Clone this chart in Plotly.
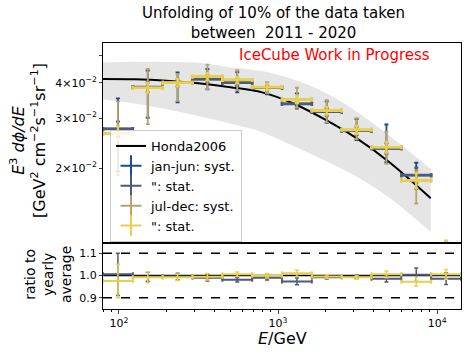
import numpy as np
import plotly.graph_objects as go

# ---------------- data ----------------
# energy bins: log10(E/GeV) edges
bin_edges_log = [1.9, 2.0875, 2.275, 2.4625, 2.65, 2.8375, 3.025, 3.2125, 3.4, 3.5875, 3.775, 3.9625, 4.15]

# E^3 dphi/dE  [GeV^2 cm^-2 s^-1 sr^-1]
jj_flux    = [0.0275, 0.0386, 0.0400, 0.0412, 0.0400, 0.0384, 0.0337, 0.0316, 0.0271, 0.0235, 0.0189, 0.0093]
jj_syst_up = [0.0077, 0.0055, 0.0035, 0.0035, 0.0036, 0.0016, 0.0030, 0.0028, 0.0027, 0.0050, 0.0020, 0.0012]
jj_syst_dn = [0.0080, 0.0085, 0.0059, 0.0033, 0.0030, 0.0020, 0.0013, 0.0027, 0.0020, 0.0025, 0.0020, 0.0020]
jj_stat    = [0.0017, 0.0015, 0.0012, 0.0012, 0.0010, 0.0010, 0.0010, 0.0010, 0.0009, 0.0010, 0.0012, 0.0010]

jd_flux    = [0.0265, 0.0384, 0.0400, 0.0420, 0.0409, 0.0386, 0.0349, 0.0319, 0.0273, 0.0237, 0.0181, 0.0100]
jd_syst_up = [0.0078, 0.0063, 0.0030, 0.0043, 0.0034, 0.0014, 0.0035, 0.0028, 0.0027, 0.0032, 0.0015, 0.0011]
jd_syst_dn = [0.0076, 0.0098, 0.0055, 0.0040, 0.0032, 0.0018, 0.0022, 0.0029, 0.0020, 0.0030, 0.0031, 0.0020]
jd_stat    = [0.0016, 0.0015, 0.0012, 0.0012, 0.0010, 0.0010, 0.0010, 0.0010, 0.0009, 0.0010, 0.0011, 0.0011]

# ratio to yearly average
jj_ratio     = [1.005, 0.994, 0.995, 0.990, 0.981, 0.990, 0.973, 0.992, 0.994, 0.985, 1.003, 0.985]
jj_ratio_err = [0.095, 0.020, 0.015, 0.015, 0.010, 0.010, 0.015, 0.008, 0.008, 0.015, 0.030, 0.026]
jd_ratio     = [0.975, 0.992, 0.992, 0.994, 1.005, 0.999, 1.010, 0.995, 0.992, 1.005, 0.972, 1.005]
jd_ratio_err = [0.075, 0.025, 0.015, 0.015, 0.010, 0.010, 0.015, 0.008, 0.008, 0.015, 0.020, 0.022]

# Honda2006 model and its uncertainty band
honda_logE = [1.9, 2.1, 2.3, 2.5, 2.7, 2.9, 3.1, 3.3, 3.5, 3.7, 3.96]
honda_flux = [0.04121, 0.04111, 0.04064, 0.03981, 0.03855, 0.03698, 0.03373, 0.02958, 0.02535, 0.02099, 0.01567]
band_hi    = [0.04710, 0.04742, 0.04732, 0.04699, 0.04529, 0.04395, 0.04102, 0.03680, 0.03150, 0.02600, 0.01990]
band_lo    = [0.03491, 0.03381, 0.03228, 0.03055, 0.02871, 0.02679, 0.02388, 0.02118, 0.01858, 0.01574, 0.01191]

x_tickvals = [100, 1000, 10000]
x_ticktext = ["10<sup>2</sup>", "10<sup>3</sup>", "10<sup>4</sup>"]
y_tickvals = [0.02, 0.03, 0.04, 0.05]
y_ticktext = ["2×10<sup>−2</sup>", "3×10<sup>−2</sup>", "4×10<sup>−2</sup>", ""]
r_tickvals = [0.9, 1.0, 1.1]
r_ticktext = ["0.9", "1.0", "1.1"]

# ---------------- derived ----------------
lo = np.array(bin_edges_log[:-1])
hi = np.array(bin_edges_log[1:])
Ec = 10 ** ((lo + hi) / 2)
xerr_m = Ec - 10 ** lo
xerr_p = 10 ** hi - Ec
honda_E = 10 ** np.array(honda_logE)

C_JJ_SYST = "#1f4a8a"
C_JJ_STAT = "#4d5a7c"
C_JD_SYST = "#b3a56b"
C_JD_STAT = "#e9d04a"

fig = go.Figure()

# band
fig.add_trace(go.Scatter(x=honda_E, y=band_lo, mode="lines", line=dict(width=0, shape="spline"),
                         showlegend=False, hoverinfo="skip", xaxis="x", yaxis="y", legendgroup="band"))
fig.add_trace(go.Scatter(x=honda_E, y=band_hi, mode="lines", line=dict(width=0, shape="spline"),
                         fill="tonexty", fillcolor="rgba(0,0,0,0.10)", legendgroup="band",
                         showlegend=False, hoverinfo="skip", xaxis="x", yaxis="y"))
# Honda line
fig.add_trace(go.Scatter(x=honda_E, y=honda_flux, mode="lines", name="Honda2006", legendgroup="g0",
                         line=dict(color="black", width=2, shape="spline"), xaxis="x", yaxis="y"))


def eb(x, y, up, dn, color, th, width, xa, ya):
    fig.add_trace(go.Scatter(
        x=x, y=y, mode="markers", marker=dict(size=1, color=color), showlegend=False,
        error_y=dict(type="data", symmetric=False, array=up, arrayminus=dn,
                     color=color, thickness=th, width=width),
        error_x=dict(type="data", symmetric=False, array=xerr_p, arrayminus=xerr_m,
                     color=color, thickness=th + 0.5, width=width),
        xaxis=xa, yaxis=ya, legendgroup="data"))


eb(Ec, jj_flux, jj_syst_up, jj_syst_dn, C_JJ_SYST, 1.8, 2, "x", "y")
eb(Ec, jj_flux, jj_stat, jj_stat, C_JJ_STAT, 2.2, 2, "x", "y")
eb(Ec, jd_flux, jd_syst_up, jd_syst_dn, C_JD_SYST, 1.8, 2, "x", "y")
eb(Ec, jd_flux, jd_stat, jd_stat, C_JD_STAT, 2.2, 2, "x", "y")

# ratio panel
fig.add_trace(go.Scatter(x=[10 ** bin_edges_log[0], 10 ** bin_edges_log[-1]], y=[1.0, 1.0], mode="lines",
                         line=dict(color="black", width=1.5), showlegend=False, xaxis="x2", yaxis="y2"))
for v in (1.1, 0.9):
    fig.add_trace(go.Scatter(x=[10 ** bin_edges_log[0], 10 ** bin_edges_log[-1]], y=[v, v], mode="lines",
                             line=dict(color="black", width=1.5, dash="dash"), showlegend=False,
                             xaxis="x2", yaxis="y2"))
eb(Ec, jj_ratio, jj_ratio_err, jj_ratio_err, C_JJ_STAT, 1.5, 2, "x2", "y2")
eb(Ec, jd_ratio, jd_ratio_err, jd_ratio_err, C_JD_STAT, 1.5, 2, "x2", "y2")

# legend entries
for i, (name, col) in enumerate([("jan-jun: syst.", C_JJ_SYST), ("\": stat.", C_JJ_STAT),
                                 ("jul-dec: syst.", C_JD_SYST), ("\": stat.", C_JD_STAT)]):
    fig.add_trace(go.Scatter(x=[None], y=[None], mode="markers", name=name, legendgroup="g%d" % (i + 1),
                             marker=dict(symbol="cross-thin", size=15, color=col,
                                         line=dict(color=col, width=2)),
                             xaxis="x", yaxis="y"))

# shaded regions (outside bins)
shapes = []
for (a, b) in [(bin_edges_log[0], bin_edges_log[1]), (bin_edges_log[-2], bin_edges_log[-1])]:
    shapes.append(dict(type="rect", xref="x", yref="y domain", x0=a, x1=b, y0=0, y1=1,
                       fillcolor="rgba(0,0,0,0.15)", line=dict(width=0), layer="below"))
    shapes.append(dict(type="rect", xref="x2", yref="y2 domain", x0=a, x1=b, y0=0, y1=1,
                       fillcolor="rgba(0,0,0,0.15)", line=dict(width=0), layer="below"))

FONT = "DejaVu Sans"
W, H = 468, 354
L, R, T, B = 103, 7, 43, 45
split = (309 - 243) / (309 - 43)

xr = [bin_edges_log[0], bin_edges_log[-1]]
minor_vals = [m * 10 ** d for d in (1, 2, 3, 4) for m in range(2, 10)]

fig.update_layout(
    width=W, height=H,
    margin=dict(l=L, r=R, t=T, b=B),
    paper_bgcolor="white", plot_bgcolor="white",
    font=dict(family=FONT, color="black", size=11),
    showlegend=True,
    legend=dict(x=(110 - L) / (W - L - R), y=(309 - 130) / (309 - 43), xanchor="left", yanchor="top",
                bgcolor="rgba(255,255,255,0.8)", bordercolor="#cccccc", borderwidth=1,
                font=dict(size=13, family=FONT), traceorder="grouped", tracegroupgap=0),
    xaxis=dict(type="log", range=xr, domain=[0, 1], anchor="y", showticklabels=False, ticks="",
               showgrid=False, zeroline=False, showline=True, mirror=True, linecolor="black", linewidth=1),
    yaxis=dict(type="log", range=[np.log10(0.0109), np.log10(0.0552)], domain=[split, 1], anchor="x",
               tickmode="array", tickvals=y_tickvals, ticktext=y_ticktext, ticks="outside", ticklen=3,
               tickfont=dict(size=11), showgrid=False, zeroline=False, showline=True, mirror=True,
               linecolor="black", linewidth=1),
    xaxis2=dict(type="log", range=xr, domain=[0, 1], anchor="y2", tickmode="array", tickvals=x_tickvals,
                ticktext=x_ticktext, ticks="outside", ticklen=4, tickfont=dict(size=11),
                minor=dict(tickmode="array", tickvals=minor_vals, ticks="outside", ticklen=2,
                           tickcolor="black"),
                showgrid=False, zeroline=False, showline=True, mirror=True, linecolor="black", linewidth=1),
    yaxis2=dict(range=[0.849, 1.146], domain=[0, split], anchor="x2", tickmode="array",
                tickvals=r_tickvals, ticktext=r_ticktext, ticks="outside", ticklen=3,
                tickfont=dict(size=11), showgrid=False, zeroline=False, showline=True, mirror=True,
                linecolor="black", linewidth=1),
    shapes=shapes,
)

PW, PH = W - L - R, H - T - B


def px(x):
    return (x - L) / PW


def py(y):
    return (H - B - y) / PH


annots = [
    dict(text="Unfolding of 10% of the data taken<br>between\u00a0 2011 - 2020", x=px(273), y=py(23),
         xanchor="center", yanchor="middle", font=dict(size=15)),
    dict(text="IceCube Work in Progress", x=px(432), y=py(55), xanchor="right", yanchor="middle",
         font=dict(size=15, color="red")),
    dict(text="<i>E</i><sup>3</sup> <i>dϕ/dE</i><br>[GeV<sup>2</sup> cm<sup>−2</sup>s<sup>−1</sup>sr<sup>−1</sup>]",
         x=px(28), y=py(141), xanchor="center", yanchor="middle", textangle=-90, font=dict(size=16)),
    dict(text="ratio to<br>yearly<br>average", x=px(48), y=py(275), xanchor="center", yanchor="middle",
         textangle=-90, font=dict(size=14)),
    dict(text="<i>E</i>/GeV", x=px(282), y=py(338), xanchor="center", yanchor="middle",
         font=dict(size=16)),
]
for a in annots:
    a.update(xref="paper", yref="paper", showarrow=False)
    a["font"]["family"] = FONT
fig.update_layout(annotations=annots)

fig.write_html("out.html")
